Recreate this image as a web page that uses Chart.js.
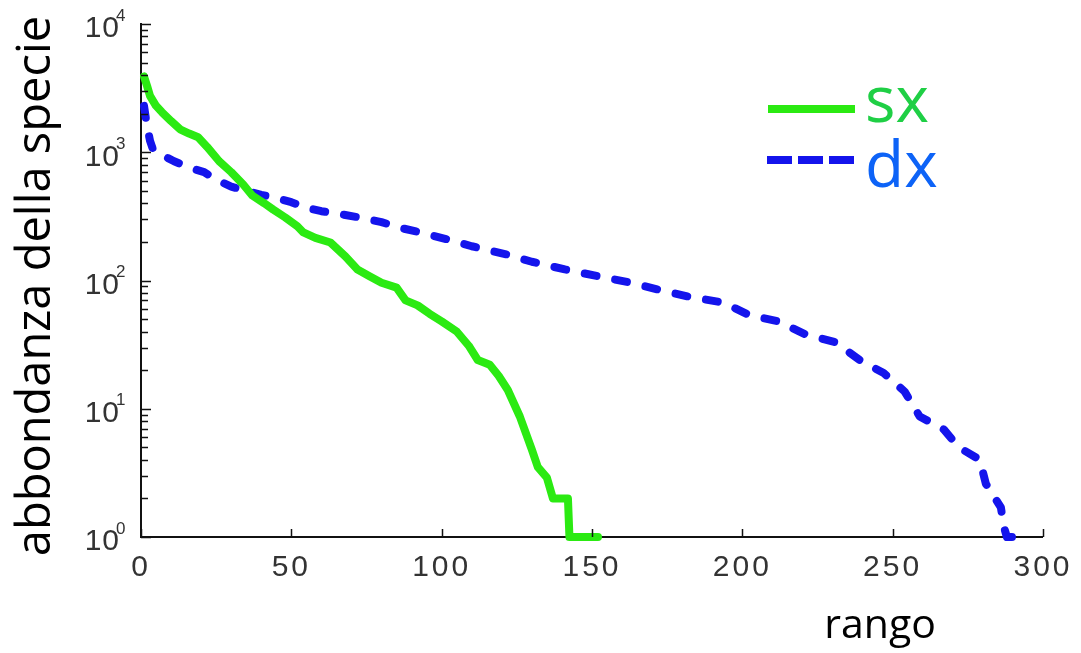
<!DOCTYPE html>
<html>
<head>
<meta charset="utf-8">
<script src="https://cdn.jsdelivr.net/npm/chart.js@4.4.1/dist/chart.umd.min.js"></script>
<style>
	html, body { margin: 0; padding: 0; background: #fff; }
	#box { width: 1081px; height: 653px; }
</style>
</head>
<body>
<div id="box"><canvas id="rankChart"></canvas></div>
<script>
// rank-abundance, left (sx) and right (dx)
const sxRank = [1, 2, 3, 5, 7, 10, 13, 16, 19, 22, 26, 30, 34, 37, 41, 44, 48, 52, 54, 58, 63, 68, 72, 76, 80, 85, 88, 92, 96, 100, 105, 109, 112, 116, 119, 122, 126, 130, 132, 135, 137, 142, 142.5, 152];
const sxAbund = [3900, 3300, 2750, 2300, 2050, 1750, 1510, 1400, 1310, 1100, 850, 700, 560, 460, 400, 357, 310, 265, 237, 215, 198, 154, 122, 108, 96, 88, 70, 64, 55, 48, 40, 31, 24, 22, 18, 14, 8.7, 4.8, 3.5, 2.9, 2, 2, 1, 1];

const dxRank = [1, 2, 3, 4, 7, 11, 16, 21, 25, 30, 35, 40, 45, 50, 55, 60, 66, 72, 80, 87, 93, 102, 110, 122, 130, 141, 152, 163, 172, 182, 194, 202, 212, 221, 231, 239, 247, 254, 259, 267, 272, 279, 281, 286, 287, 288, 291];
const dxAbund = [2300, 1600, 1230, 1050, 950, 850, 760, 700, 610, 540, 500, 465, 440, 408, 370, 347, 330, 312, 285, 255, 237, 209, 185, 159, 140, 122, 108, 96, 85, 75, 67, 54, 48, 38, 33, 24, 19, 13.6, 8.7, 6.9, 5, 4, 2.6, 1.7, 1.2, 1, 1];

const xTicks = [0, 50, 100, 150, 200, 250, 300];
const yDecades = [0, 1, 2, 3, 4];
const seriesNames = ['sx', 'dx'];

const greenLine = '#2bea12';
const blueLine = '#1414ec';

function pairs(xs, ys) {
	return xs.map((x, i) => ({ x: x, y: ys[i] }));
}

// ticks pointing inward, y labels as 10^k, axis titles, legend
const decor = {
	id: 'decor',
	beforeDraw(chart) {
		chart.ctx.letterSpacing = '3px';
	},
	beforeDatasetsDraw(chart) {
		chart.ctx.letterSpacing = '0px';
	},
	afterDraw(chart) {
		const ctx = chart.ctx;
		const area = chart.chartArea;
		const xs = chart.scales.x;
		const ys = chart.scales.y;
		ctx.save();
		ctx.strokeStyle = '#111';
		ctx.lineWidth = 1.5;
		ctx.beginPath();
		yDecades.forEach(k => {
			for (let m = 1; m <= 9; m++) {
				const v = m * Math.pow(10, k);
				if (v > 10000) break;
				const py = Math.round(ys.getPixelForValue(v)) + 0.5;
				const len = m === 1 ? 10 : 7;
				ctx.moveTo(area.left, py);
				ctx.lineTo(area.left + len, py);
			}
		});
		xTicks.forEach(t => {
			const px = Math.round(xs.getPixelForValue(t)) + 0.5;
			ctx.moveTo(px, area.bottom);
			ctx.lineTo(px, area.bottom - 8);
		});
		ctx.stroke();

		// y tick labels
		ctx.fillStyle = '#333';
		ctx.textBaseline = 'middle';
		yDecades.forEach(k => {
			const py = ys.getPixelForValue(Math.pow(10, k));
			ctx.font = '30px "Liberation Sans"';
			ctx.textAlign = 'right';
			ctx.letterSpacing = '1px';
			ctx.fillText('10', 120, py + 5);
			ctx.letterSpacing = '0px';
			ctx.font = '17px "Liberation Sans"';
			ctx.textAlign = 'left';
			ctx.fillText(String(k), 116, py - 8);
		});

		// axis titles
		ctx.fillStyle = '#000';
		ctx.font = '47px "Open Sans"';
		ctx.textAlign = 'center';
		ctx.textBaseline = 'alphabetic';
		ctx.save();
		ctx.translate(50, 286);
		ctx.rotate(-Math.PI / 2);
		ctx.fillText('abbondanza della specie', 0, 0);
		ctx.restore();
		ctx.font = '41px "Open Sans"';
		ctx.fillText('rango', 880, 638);

		// legend
		ctx.lineWidth = 8;
		ctx.lineCap = 'butt';
		ctx.strokeStyle = greenLine;
		ctx.beginPath();
		ctx.moveTo(768, 109);
		ctx.lineTo(855, 109);
		ctx.stroke();
		ctx.strokeStyle = blueLine;
		ctx.setLineDash([25, 6]);
		ctx.beginPath();
		ctx.moveTo(767, 160);
		ctx.lineTo(855, 160);
		ctx.stroke();
		ctx.setLineDash([]);
		ctx.font = '64px "Open Sans"';
		ctx.textAlign = 'left';
		ctx.fillStyle = '#1fcf45';
		ctx.fillText(seriesNames[0], 865, 122);
		ctx.fillStyle = '#0d63f7';
		ctx.fillText(seriesNames[1], 865, 187);
		ctx.restore();
	}
};

new Chart(document.getElementById('rankChart'), {
	type: 'line',
	data: {
		datasets: [{
			label: seriesNames[0],
			data: pairs(sxRank, sxAbund),
			borderColor: greenLine,
			borderWidth: 8,
			borderJoinStyle: 'round',
			borderCapStyle: 'round',
			pointRadius: 0,
			tension: 0,
			clip: false,
		}, {
			label: seriesNames[1],
			data: pairs(dxRank, dxAbund),
			borderColor: blueLine,
			borderWidth: 8,
			borderDash: [12, 19],
			borderJoinStyle: 'round',
			borderCapStyle: 'round',
			pointRadius: 0,
			tension: 0,
			clip: false,
		}]
	},
	options: {
		responsive: true,
		maintainAspectRatio: false,
		animation: false,
		layout: {
			padding: { left: 0, right: 32, top: 24, bottom: 0 }
		},
		scales: {
			x: {
				type: 'linear',
				min: 0,
				max: 300,
				afterFit: function (scale) { scale.height = 116; },
				border: { display: true, color: '#111', width: 2 },
				grid: { display: false, drawTicks: false },
				ticks: {
					stepSize: 50,
					padding: 13,
					maxRotation: 0,
					color: '#333',
					font: { size: 30, family: 'Liberation Sans' },
				}
			},
			y: {
				type: 'logarithmic',
				min: 1,
				max: 10000,
				afterFit: function (scale) { scale.width = 141; },
				border: { display: true, color: '#111', width: 2 },
				grid: { display: false, drawTicks: false },
				ticks: { display: false }
			}
		},
		plugins: {
			legend: { display: false },
			tooltip: { enabled: false },
		}
	},
	plugins: [decor]
});
</script>
</body>
</html>
